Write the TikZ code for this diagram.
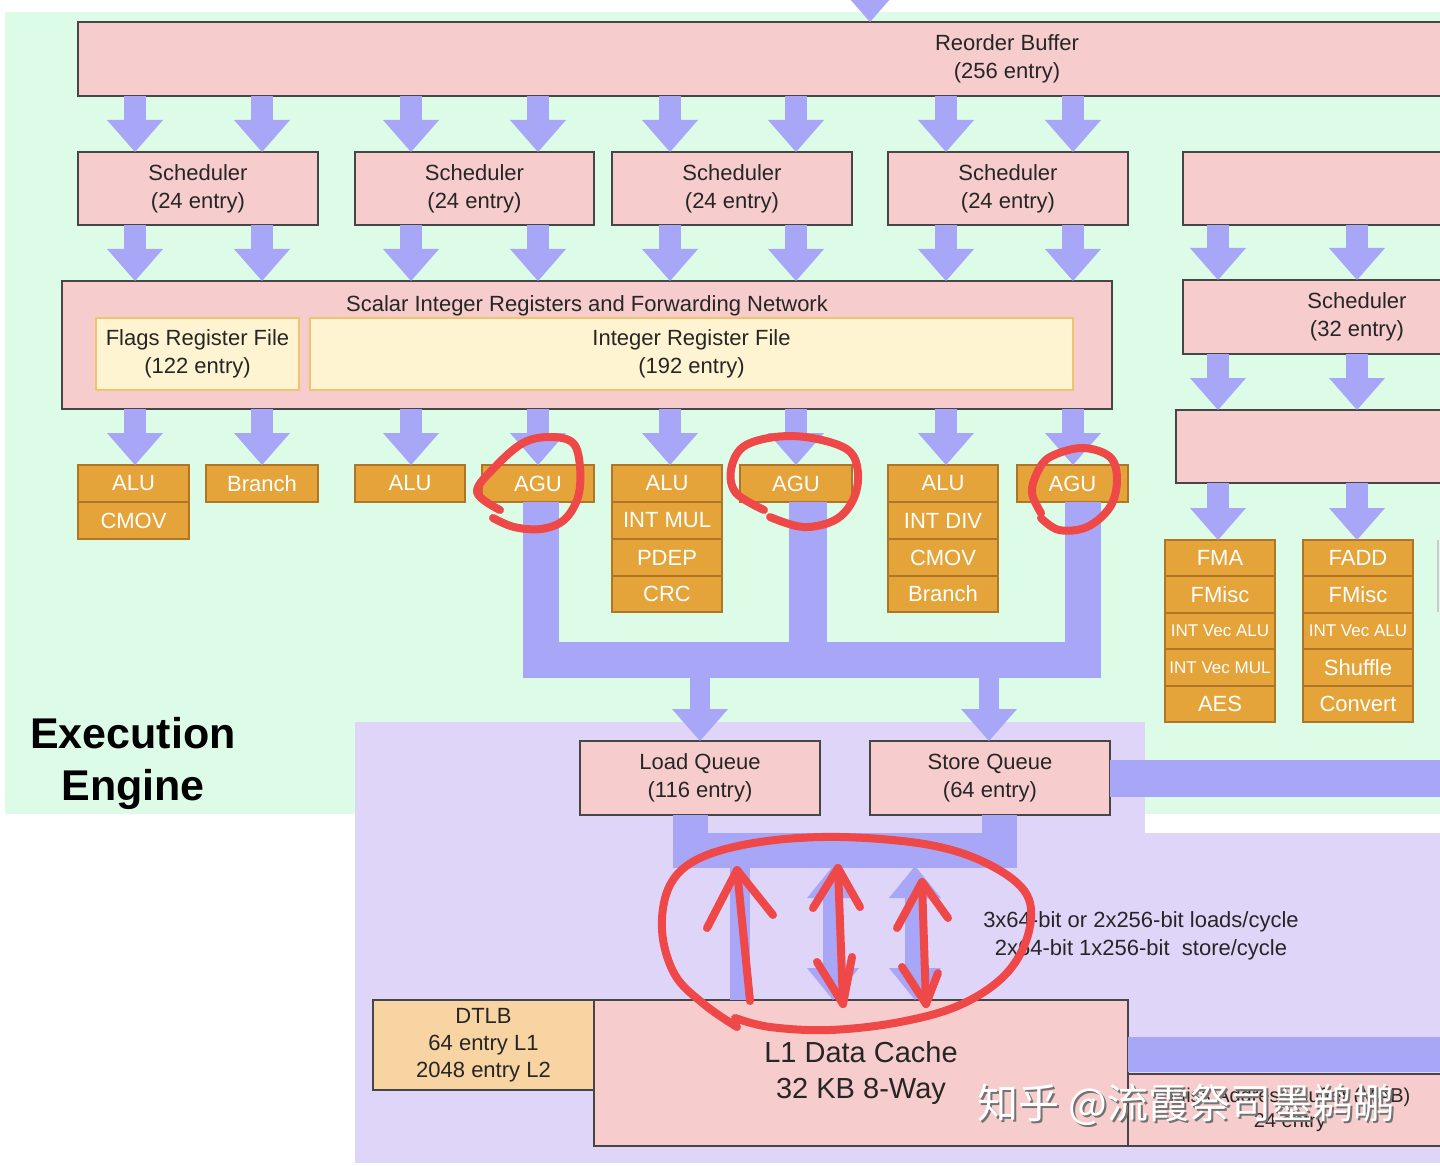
\documentclass[tikz,border=0pt]{standalone}
\usepackage{fontspec}
\setmainfont{Liberation Sans}
\newfontfamily\cjkfont{Noto Sans CJK SC}
\usetikzlibrary{arrows.meta,calc}
\definecolor{bggreen}{RGB}{221,252,231}
\definecolor{bglav}{RGB}{223,213,248}
\definecolor{arrowc}{RGB}{168,166,247}
\definecolor{boxpink}{RGB}{247,204,204}
\definecolor{boxline}{RGB}{70,70,70}
\definecolor{unitfill}{RGB}{228,164,58}
\definecolor{unitline}{RGB}{176,118,40}
\definecolor{creamfill}{RGB}{255,244,210}
\definecolor{creamline}{RGB}{238,196,112}
\definecolor{tlbfill}{RGB}{248,212,162}
\definecolor{redpen}{RGB}{239,72,72}
\tikzset{
 box/.style={draw=boxline, fill=boxpink, line width=1pt, inner sep=0pt, outer sep=0pt, align=center, font=\fontsize{11}{14}\selectfont, text=black!85},
 cream/.style={box, draw=creamline, fill=creamfill},
 unit/.style={draw=unitline, fill=unitfill, line width=1pt, inner sep=0pt, outer sep=0pt, text=white, font=\fontsize{11}{13}\selectfont},
 unitsm/.style={unit, font=\fontsize{8.5}{10}\selectfont},
 tlb/.style={box, fill=tlbfill, font=\fontsize{11}{13.5}\selectfont},
 bigtxt/.style={font=\fontsize{14.5}{18}\selectfont},
 mabtxt/.style={font=\fontsize{10}{12.5}\selectfont},
 fat/.style={draw=arrowc, line width=11pt, -{Triangle[width=28pt,length=16pt,line width=0pt]}},
 fatboth/.style={draw=arrowc, line width=10pt, {Triangle[width=26pt,length=16pt,line width=0pt]}-{Triangle[width=26pt,length=16pt,line width=0pt]}},
 bar/.style={draw=arrowc, line width=18pt, line join=miter},
 pen/.style={draw=redpen, line width=4pt, line cap=round, line join=round},
 lbl/.style={inner sep=0pt, align=center, font=\fontsize{11}{14}\selectfont, text=black!85},
}
\newcommand\blk[7]{\node[#1, minimum width={(#5-#3)*0.5pt}, minimum height={(#6-#4)*0.5pt}] (#2) at ({(#3+#5)/2},{(#4+#6)/2}) {#7};}
\begin{document}
\begin{tikzpicture}[x=0.5pt,y=-0.5pt]
\useasboundingbox (0,0) rectangle (1440,1166);
\clip (0,0) rectangle (1440,1166);
% backgrounds
\fill[white] (0,0) rectangle (1440,1166);
\fill[bggreen] (5,12) rectangle (1440,814);
\fill[bglav] (355,722) rectangle (1145,1163);
\fill[bglav] (1145,833) rectangle (1440,1163);
\draw[gray!40, line width=1pt] (1438,540) -- (1438,612);
% columns
\foreach \n/\x in {1/135,2/262,3/411,4/538,5/670,6/796,7/946,8/1073} \coordinate (k\n) at (\x,0);
\coordinate (f1) at (1218,0);
\coordinate (f2) at (1357,0);
\coordinate (topin) at (870,-60);
% main boxes
\blk{box}{rob}{78}{22}{1936}{96}{Reorder Buffer\\(256 entry)}
\blk{box}{s1}{78}{152}{318}{225}{Scheduler\\(24 entry)}
\blk{box}{s2}{355}{152}{594}{225}{Scheduler\\(24 entry)}
\blk{box}{s3}{612}{152}{852}{225}{Scheduler\\(24 entry)}
\blk{box}{s4}{888}{152}{1128}{225}{Scheduler\\(24 entry)}
\blk{box}{s5}{1183}{152}{1531}{225}{}
\blk{box}{reg}{62}{281}{1112}{409}{}
\node[lbl] (regt) at (587,306) {Scalar Integer Registers and Forwarding Network};
\blk{cream}{flags}{96}{318}{299}{390}{Flags Register File\\(122 entry)}
\blk{cream}{irf}{310}{318}{1073}{390}{Integer Register File\\(192 entry)}
\blk{box}{s6}{1183}{280}{1531}{354}{Scheduler\\(32 entry)}
\blk{box}{fpr}{1176}{410}{1531}{483}{}
% integer units
\blk{unit}{alu1}{78}{465}{189}{502}{ALU}
\blk{unit}{cmov1}{78}{502}{189}{539}{CMOV}
\blk{unit}{br1}{206}{465}{318}{502}{Branch}
\blk{unit}{alu2}{355}{465}{465}{502}{ALU}
\blk{unit}{agu1}{482}{465}{594}{502}{AGU}
\blk{unit}{alu3}{612}{465}{722}{502}{ALU}
\blk{unit}{mul}{612}{502}{722}{539}{INT MUL}
\blk{unit}{pdep}{612}{539}{722}{576}{PDEP}
\blk{unit}{crc}{612}{576}{722}{612}{CRC}
\blk{unit}{agu2}{740}{465}{852}{502}{AGU}
\blk{unit}{alu4}{888}{465}{998}{502}{ALU}
\blk{unit}{div}{888}{502}{998}{539}{INT DIV}
\blk{unit}{cmov2}{888}{539}{998}{576}{CMOV}
\blk{unit}{br2}{888}{576}{998}{612}{Branch}
\blk{unit}{agu3}{1017}{465}{1128}{502}{AGU}
% FP units
\blk{unit}{fma}{1165}{540}{1275}{576.4}{FMA}
\blk{unit}{fmisc1}{1165}{576.4}{1275}{612.8}{FMisc}
\blk{unitsm}{valu1}{1165}{612.8}{1275}{649.2}{INT Vec ALU}
\blk{unitsm}{vmul}{1165}{649.2}{1275}{685.6}{INT Vec MUL}
\blk{unit}{aes}{1165}{685.6}{1275}{722}{AES}
\blk{unit}{fadd}{1303}{540}{1413}{576.4}{FADD}
\blk{unit}{fmisc2}{1303}{576.4}{1413}{612.8}{FMisc}
\blk{unitsm}{valu2}{1303}{612.8}{1413}{649.2}{INT Vec ALU}
\blk{unit}{shuf}{1303}{649.2}{1413}{685.6}{Shuffle}
\blk{unit}{conv}{1303}{685.6}{1413}{722}{Convert}
% memory
\blk{box}{lq}{580}{741}{820}{815}{Load Queue\\(116 entry)}
\blk{box}{sq}{870}{741}{1110}{815}{Store Queue\\(64 entry)}
\blk{tlb}{dtlb}{373}{1000}{594}{1090}{DTLB\\64 entry L1\\2048 entry L2}
\blk{box,bigtxt}{l1}{594}{1000}{1128}{1146}{L1 Data Cache\\32 KB 8-Way}
\blk{box,mabtxt}{mab}{1128}{1074}{1452}{1146}{Miss Address Buffer (MAB)\\24 entry}
% fat arrows
\draw[fat] (topin) -- (rob.north -| topin);
\foreach \n in {1,2} {\draw[fat] (rob.south -| k\n) -- (s1.north -| k\n); \draw[fat] (s1.south -| k\n) -- (reg.north -| k\n);}
\foreach \n in {3,4} {\draw[fat] (rob.south -| k\n) -- (s2.north -| k\n); \draw[fat] (s2.south -| k\n) -- (reg.north -| k\n);}
\foreach \n in {5,6} {\draw[fat] (rob.south -| k\n) -- (s3.north -| k\n); \draw[fat] (s3.south -| k\n) -- (reg.north -| k\n);}
\foreach \n in {7,8} {\draw[fat] (rob.south -| k\n) -- (s4.north -| k\n); \draw[fat] (s4.south -| k\n) -- (reg.north -| k\n);}
\draw[fat] (reg.south -| k1) -- (alu1.north -| k1);
\draw[fat] (reg.south -| k2) -- (br1.north -| k2);
\draw[fat] (reg.south -| k3) -- (alu2.north -| k3);
\draw[fat] (reg.south -| k4) -- (agu1.north -| k4);
\draw[fat] (reg.south -| k5) -- (alu3.north -| k5);
\draw[fat] (reg.south -| k6) -- (agu2.north -| k6);
\draw[fat] (reg.south -| k7) -- (alu4.north -| k7);
\draw[fat] (reg.south -| k8) -- (agu3.north -| k8);
\foreach \n in {1,2} {\draw[fat] (s5.south -| f\n) -- (s6.north -| f\n); \draw[fat] (s6.south -| f\n) -- (fpr.north -| f\n);}
\draw[fat] (fpr.south -| f1) -- (fma.north -| f1);
\draw[fat] (fpr.south -| f2) -- (fadd.north -| f2);
% AGU data paths
\coordinate (b1) at (541,659.5);
\coordinate (b2) at (808,659.5);
\coordinate (b3) at (1082.5,659.5);
\coordinate (b2e) at (808,677.5);
\draw[bar] (agu1.south -| b1) -- (b1) -- (b3) -- (agu3.south -| b3);
\draw[bar, line width=19pt] (agu2.south -| b2) -- (b2e);
\coordinate (lqa) at (700,672);
\coordinate (sqa) at (989,672);
\draw[fat, line width=10pt] (lqa) -- (lq.north -| lqa);
\draw[fat, line width=10pt] (sqa) -- (sq.north -| sqa);
% queue paths
\coordinate (q1) at (690.5,850.5);
\coordinate (q2) at (999,850.5);
\draw[bar, line width=17.5pt] (lq.south -| q1) -- (q1) -- (q2) -- (sq.south -| q2);
\coordinate (sqr) at (1470,778.5);
\draw[bar, line width=18.5pt] (sq.east |- sqr) -- (sqr);
\coordinate (l1r) at (1470,1054.5);
\draw[bar, line width=17.5pt] (l1.east |- l1r) -- (l1r);
\coordinate (m1) at (740,866);
\coordinate (m2) at (833,866);
\coordinate (m3) at (915,866);
\draw[draw=arrowc, line width=10pt] (m1) -- (l1.north -| m1);
\draw[fatboth] (m2) -- (l1.north -| m2);
\draw[fatboth] (m3) -- (l1.north -| m3);
\node[lbl] (bw) at (1141,936) {3x64-bit or 2x256-bit loads/cycle\\2x64-bit 1x256-bit\ \ store/cycle};
% title
\node[font=\bfseries\fontsize{21.5}{26}\selectfont, align=center, inner sep=0pt] (ee) at (133,763) {Execution\\Engine};
% red annotations
\draw[pen] plot[smooth, tension=0.6] coordinates {(500,510) (477,492) (495,467) (523,443) (550,437) (573,443) (580,467) (578,497) (564,520) (541,529) (514,527) (493,518)};
\draw[pen] plot[smooth, tension=0.6] coordinates {(764,510) (736,493) (731,470) (743,447) (775,437) (812,438) (848,450) (858,473) (853,500) (835,520) (803,527) (770,517)};
\draw[pen] plot[smooth, tension=0.6] coordinates {(1041,513) (1032,493) (1037,473) (1050,457) (1082,448) (1110,457) (1117,480) (1110,507) (1087,527) (1059,530) (1041,518)};
\draw[pen] plot[smooth, tension=0.6] coordinates {(737,1027) (705,1005) (675,975) (662,930) (670,885) (700,858) (760,842) (840,837) (930,845) (990,865) (1027,895) (1028,935) (1005,975) (960,1005) (900,1022) (830,1030) (770,1027) (735,1018)};
\draw[pen] (750,1001) -- (737,870);
\draw[pen] (707,928) -- (737,870) -- (773,915);
\draw[pen] (843,1004) -- (838,868);
\draw[pen] (813,908) -- (838,868) -- (860,907);
\draw[pen] (817,962) -- (843,1004) -- (852,957);
\draw[pen] (926,1004) -- (922,882);
\draw[pen] (897,928) -- (922,882) -- (948,918);
\draw[pen] (902,967) -- (926,1004) -- (938,973);
% watermark
\node[font=\cjkfont\fontsize{20.5}{20.5}\selectfont, text=black!55, inner sep=0pt] (wms) at (1188,1107) {知乎 @流霞祭司墨鹈鹕};
\node[font=\cjkfont\fontsize{20.5}{20.5}\selectfont, text=white, inner sep=0pt] (wm) at (1186,1105) {知乎 @流霞祭司墨鹈鹕};
\end{tikzpicture}
\end{document}
